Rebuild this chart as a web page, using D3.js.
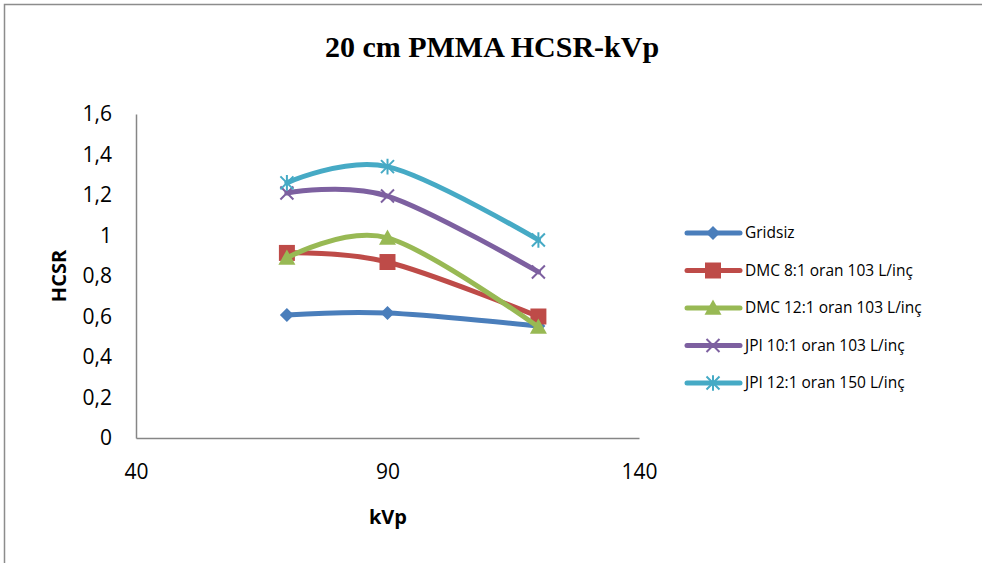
<!DOCTYPE html>
<html>
<head>
<meta charset="utf-8">
<script src="https://cdn.jsdelivr.net/npm/d3@7"></script>
<style>
  html, body { margin: 0; padding: 0; background: #fff; }
  svg { display: block; }
</style>
</head>
<body>
<svg id="chart" width="982" height="563"></svg>
<script>
// kVp settings measured
const kvp = [70, 90, 120];

// HCSR values per grid configuration
const gridsiz  = [0.607, 0.617, 0.553];
const dmc8     = [0.914, 0.869, 0.600];
const dmc12    = [0.889, 0.988, 0.548];
const jpi10    = [1.210, 1.195, 0.820];
const jpi12    = [1.260, 1.340, 0.978];

const seriesNames = [
  "Gridsiz",
  "DMC 8:1 oran 103 L/inç",
  "DMC 12:1 oran 103 L/inç",
  "JPI 10:1 oran 103 L/inç",
  "JPI 12:1 oran 150 L/inç"
];
const seriesValues = [gridsiz, dmc8, dmc12, jpi10, jpi12];
const seriesColors = ["#4a7ebb", "#be4b48", "#98b954", "#7d60a0", "#46aac5"];
const seriesMarkers = ["diamond", "square", "triangle", "cross", "star"];

const xTicks = [40, 90, 140];
const yTicks = [0, 0.2, 0.4, 0.6, 0.8, 1, 1.2, 1.4, 1.6];

const svg = d3.select("#chart");
const W = 982, H = 563;

// outer frame (left and top edges visible)
svg.append("path")
  .attr("d", `M4.5,${H} V4.5 H${W}`)
  .attr("fill", "none")
  .attr("stroke", "#8c8c8c")
  .attr("stroke-width", 1.5);

const plot = { left: 136, right: 639, top: 114, bottom: 438 };
const x = d3.scaleLinear().domain([40, 140]).range([plot.left, plot.right]);
const y = d3.scaleLinear().domain([0, 1.6]).range([plot.bottom, plot.top]);

const fmt = v => String(+v.toFixed(1)).replace(".", ",");

// axes
const xAxis = svg.append("g")
  .attr("transform", `translate(0,${plot.bottom})`)
  .call(d3.axisBottom(x).tickValues(xTicks).tickSize(0).tickPadding(26).tickFormat(d3.format("d")));
const yAxis = svg.append("g")
  .attr("transform", `translate(${plot.left},0)`)
  .call(d3.axisLeft(y).tickValues(yTicks).tickSize(0).tickPadding(24).tickFormat(fmt));

[xAxis, yAxis].forEach(g => {
  g.select(".domain").attr("stroke", "#868686").attr("stroke-width", 1.5);
  g.selectAll("text")
    .attr("font-family", "'Open Sans', 'Noto Sans', sans-serif")
    .attr("font-size", 21)
    .attr("fill", "#000");
});
xAxis.selectAll("text").attr("dy", "0.7em");

// title
svg.append("text")
  .attr("x", 492).attr("y", 57)
  .attr("text-anchor", "middle")
  .attr("font-family", "'Liberation Serif', 'Times New Roman', serif")
  .attr("font-weight", "bold")
  .attr("font-size", 30)
  .text("20 cm PMMA HCSR-kVp");

// axis titles
svg.append("text")
  .attr("x", 388).attr("y", 524)
  .attr("text-anchor", "middle")
  .attr("font-family", "'Open Sans', 'Noto Sans', sans-serif")
  .attr("font-weight", "bold")
  .attr("font-size", 20)
  .text("kVp");

svg.append("text")
  .attr("transform", "translate(66,276) rotate(-90)")
  .attr("text-anchor", "middle")
  .attr("font-family", "'Open Sans', 'Noto Sans', sans-serif")
  .attr("font-weight", "bold")
  .attr("font-size", 20)
  .text("HCSR");

// marker shapes
function markerPath(type, s) {
  const h = s / 2;
  switch (type) {
    case "diamond": return `M0,${-h}L${h},0L0,${h}L${-h},0Z`;
    case "square": return `M${-h},${-h}H${h}V${h}H${-h}Z`;
    case "triangle": return `M0,${-h}L${h},${h * 0.8}L${-h},${h * 0.8}Z`;
    case "cross": return `M${-h},${-h}L${h},${h}M${h},${-h}L${-h},${h}`;
    case "star": return `M${-h},${-h}L${h},${h}M${h},${-h}L${-h},${h}M0,${-h * 1.2}V${h * 1.2}`;
  }
}
function drawMarker(g, type, color, cx, cy) {
  const open = type === "cross" || type === "star";
  const size = { diamond: 14, square: 16, triangle: 17, cross: 13, star: 13 }[type];
  g.append("path")
    .attr("transform", `translate(${cx},${cy})`)
    .attr("d", markerPath(type, size))
    .attr("fill", open ? "none" : color)
    .attr("stroke", color)
    .attr("stroke-width", open ? 2 : 0);
}

const line = d3.line()
  .x(d => x(d[0]))
  .y(d => y(d[1]))
  .curve(d3.curveCardinal.tension(0));

seriesValues.forEach((vals, i) => {
  const pts = kvp.map((k, j) => [k, vals[j]]);
  const g = svg.append("g");
  g.append("path")
    .attr("d", line(pts))
    .attr("fill", "none")
    .attr("stroke", seriesColors[i])
    .attr("stroke-width", 5)
    .attr("stroke-linecap", "round")
    .attr("stroke-linejoin", "round");
  pts.forEach(p => drawMarker(g, seriesMarkers[i], seriesColors[i], x(p[0]), y(p[1])));
});

// legend
const legend = svg.append("g");
const legendY0 = 233, legendStep = 37.5;
seriesNames.forEach((name, i) => {
  const ly = legendY0 + i * legendStep;
  const g = legend.append("g");
  g.append("line")
    .attr("x1", 687).attr("x2", 740)
    .attr("y1", ly).attr("y2", ly)
    .attr("stroke", seriesColors[i])
    .attr("stroke-width", 5)
    .attr("stroke-linecap", "round");
  drawMarker(g, seriesMarkers[i], seriesColors[i], 713, ly);
  g.append("text")
    .attr("x", 745).attr("y", ly)
    .attr("dy", "0.35em")
    .attr("font-family", "'Open Sans', 'Noto Sans', sans-serif")
    .attr("font-size", 15.5)
    .attr("fill", "#000")
    .text(name);
});
</script>
</body>
</html>
